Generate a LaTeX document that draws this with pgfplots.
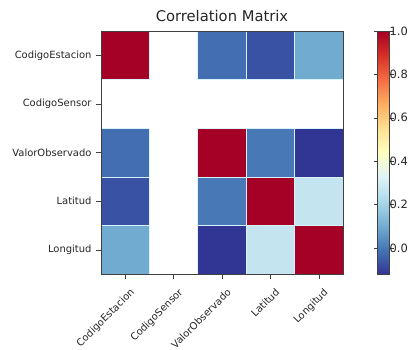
\documentclass[border=0pt]{standalone}
\usepackage{fontspec}
\setmainfont{DejaVu Sans}
\usepackage{pgfplots}
\usepackage{pgfplotstable}
\pgfplotsset{compat=1.18}
\usepgfplotslibrary{patchplots}
% each cell: 4 vertices (x,y) with the cell value as meta
\pgfplotstableread{
x y c
-0.5 -0.5 1
0.5 -0.5 1
0.5 0.5 1
-0.5 0.5 1
1.5 -0.5 -0.02
2.5 -0.5 -0.02
2.5 0.5 -0.02
1.5 0.5 -0.02
2.5 -0.5 -0.07
3.5 -0.5 -0.07
3.5 0.5 -0.07
2.5 0.5 -0.07
3.5 -0.5 0.10
4.5 -0.5 0.10
4.5 0.5 0.10
3.5 0.5 0.10
-0.5 1.5 -0.02
0.5 1.5 -0.02
0.5 2.5 -0.02
-0.5 2.5 -0.02
1.5 1.5 1
2.5 1.5 1
2.5 2.5 1
1.5 2.5 1
2.5 1.5 0.00
3.5 1.5 0.00
3.5 2.5 0.00
2.5 2.5 0.00
3.5 1.5 -0.12
4.5 1.5 -0.12
4.5 2.5 -0.12
3.5 2.5 -0.12
-0.5 2.5 -0.07
0.5 2.5 -0.07
0.5 3.5 -0.07
-0.5 3.5 -0.07
1.5 2.5 0.00
2.5 2.5 0.00
2.5 3.5 0.00
1.5 3.5 0.00
2.5 2.5 1
3.5 2.5 1
3.5 3.5 1
2.5 3.5 1
3.5 2.5 0.27
4.5 2.5 0.27
4.5 3.5 0.27
3.5 3.5 0.27
-0.5 3.5 0.10
0.5 3.5 0.10
0.5 4.5 0.10
-0.5 4.5 0.10
1.5 3.5 -0.12
2.5 3.5 -0.12
2.5 4.5 -0.12
1.5 4.5 -0.12
2.5 3.5 0.27
3.5 3.5 0.27
3.5 4.5 0.27
2.5 4.5 0.27
3.5 3.5 1
4.5 3.5 1
4.5 4.5 1
3.5 4.5 1
}\cells
\begin{document}
\begin{tikzpicture}
\begin{axis}[
  scale only axis,
  width=242bp, height=243bp,
  xmin=-0.5, xmax=4.5, ymin=-0.5, ymax=4.5,
  y dir=reverse,
  enlargelimits=false,
  axis on top,
  axis line style={black!75},
  xtick={0,1,2,3,4}, ytick={0,1,2,3,4},
  xticklabels={CodigoEstacion,CodigoSensor,ValorObservado,Latitud,Longitud},
  yticklabels={CodigoEstacion,CodigoSensor,ValorObservado,Latitud,Longitud},
  xtick pos=bottom, ytick pos=left,
  tick align=outside,
  major tick length=5bp,
  tick style={black!75},
  ticklabel style={font=\fontsize{10}{12}\selectfont, text=black!85},
  yticklabel style={xshift=-1bp},
  xticklabel style={rotate=45, anchor=north east, inner sep=1pt, xshift=-2bp, yshift=-8bp},
  title={Correlation Matrix},
  title style={font=\fontsize{14.8}{17}\selectfont, text=black!85, yshift=0bp},
  colormap={rdylbur}{rgb255=(49,54,149) rgb255=(69,117,180) rgb255=(116,173,209) rgb255=(171,217,233) rgb255=(224,243,248) rgb255=(255,255,191) rgb255=(254,224,144) rgb255=(253,174,97) rgb255=(244,109,67) rgb255=(215,48,39) rgb255=(165,0,38)},
  point meta min=-0.12, point meta max=1,
  colorbar,
  colorbar style={
    at={(parent axis.north east)}, anchor=north west, xshift=26bp,
    scale only axis,
    width=12bp, height=243bp,
    ytick={0,0.2,0.4,0.6,0.8,1},
    yticklabel style={font=\fontsize{11.5}{14}\selectfont, text=black!85, inner sep=1pt, xshift=-5bp,
      /pgf/number format/.cd, fixed, fixed zerofill, precision=1, assume math mode=true},
    axis line style={black!75},
    tick align=outside,
    major tick length=4bp,
    tick style={black!75},
  },
]
\addplot[patch, patch type=rectangle, shader=faceted, faceted color=white!85!cyan, line width=0.6bp, point meta=explicit]
  table[x=x, y=y, meta=c] {\cells};
\end{axis}
\pgfresetboundingbox
\path[use as bounding box] (-101bp,-76bp) rectangle (308bp,274bp);
\end{tikzpicture}
\end{document}
